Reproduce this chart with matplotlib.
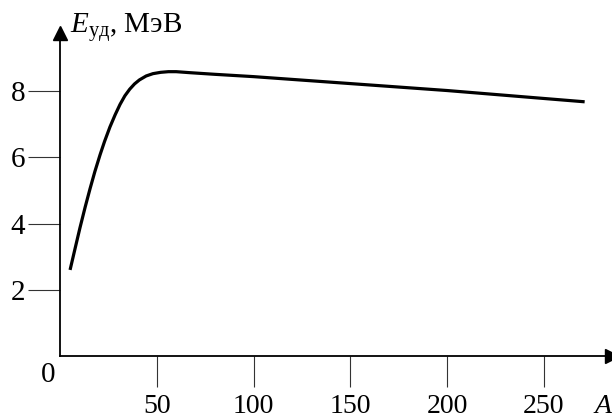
import matplotlib.pyplot as plt

# Удельная энергия связи в зависимости от массового числа
mass_number = [5.2, 8, 10.3, 13, 15.5, 18, 20.7, 23, 25.8, 28.5, 31, 33.5, 36, 38.5, 41,
               44.5, 48, 52, 56, 60, 67, 80, 100, 150, 200, 250, 271]
binding_energy = [2.6, 3.3, 3.87, 4.5, 5.05, 5.57, 6.08, 6.48, 6.92, 7.29, 7.6, 7.86, 8.06, 8.22, 8.34,
                  8.46, 8.53, 8.57, 8.59, 8.59, 8.56, 8.51, 8.44, 8.23, 8.02, 7.78, 7.68]

x_ticks = [50, 100, 150, 200, 250]
y_ticks = [2, 4, 6, 8]

plt.rcParams['font.family'] = ['Liberation Serif', 'DejaVu Serif']
plt.rcParams['mathtext.fontset'] = 'custom'
plt.rcParams['mathtext.rm'] = 'Liberation Serif'
plt.rcParams['mathtext.it'] = 'Liberation Serif:italic'

fig = plt.figure(figsize=(6.12, 4.19), dpi=100)
ax = fig.add_axes([60 / 612, 63 / 419, 552 / 612, 323 / 419])

ax.plot(mass_number, binding_energy, color='black', lw=2.3,
        solid_capstyle='butt', solid_joinstyle='round')

ax.set_xlim(0, 552 / 1.936)
ax.set_ylim(0, 323 / 33.1)

for side in ['top', 'right']:
    ax.spines[side].set_visible(False)
for side in ['left', 'bottom']:
    ax.spines[side].set_linewidth(1.3)
    ax.spines[side].set_color('black')

# Стрелки на концах осей
ax.plot(1, 0, '>', color='black', markersize=10, transform=ax.transAxes, clip_on=False)
ax.plot(0, 1, '^', color='black', markersize=10, transform=ax.transAxes, clip_on=False)

ax.set_xticks(x_ticks)
ax.set_yticks(y_ticks)
ax.tick_params(axis='x', direction='out', length=22, width=0.8, pad=5,
               labelsize=20, color='#333333')
ax.tick_params(axis='y', direction='out', length=23, width=0.8, pad=2,
               labelsize=21, color='#333333')

ax.text(-12 / 1.936, -19 / 33.1, '0', fontsize=21, ha='center', va='center')
ax.text(1.0, -0.155, 'A', fontsize=20, style='italic', ha='right', va='center',
        transform=ax.transAxes)
ax.text(10 / 552, 1.0, r'$E_{\mathrm{уд}}$, МэВ', fontsize=21, ha='left', va='baseline',
        transform=ax.transAxes)

fig.savefig('out.png', dpi=100)
